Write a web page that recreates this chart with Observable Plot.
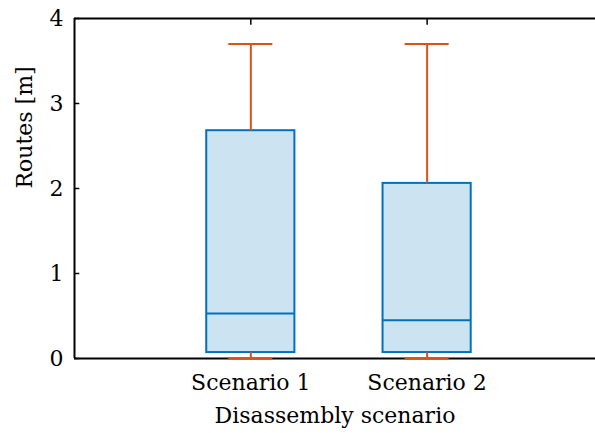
<!DOCTYPE html>
<html>
<head>
<meta charset="utf-8">
<script src="https://cdn.jsdelivr.net/npm/d3@7"></script>
<script src="https://cdn.jsdelivr.net/npm/@observablehq/plot@0.6"></script>
<style>
  html, body { margin: 0; padding: 0; background: #fff; }
  #chart svg, #chart svg text, #chart svg g { font-family: "DejaVu Serif" !important; }
</style>
</head>
<body>
<div id="chart"></div>
<script>
// ---- data ----
const categories = ["Scenario 1", "Scenario 2"];
const lowerWhisker = [0.0, 0.0];
const q1 = [0.07, 0.07];
const median = [0.53, 0.45];
const q3 = [2.68, 2.06];
const upperWhisker = [3.7, 3.7];
const yTicks = [0, 1, 2, 3, 4];
const xLabel = "Disassembly scenario";
const yLabel = "Routes [m]";

// ---- table built from the arrays ----
const rows = categories.map((c, i) => ({
  cat: c, pos: i + 1,
  lo: lowerWhisker[i], q1: q1[i], med: median[i], q3: q3[i], hi: upperWhisker[i]
}));
const positions = rows.map(d => d.pos);

const boxHalf = 0.25, capHalf = 0.125;
const blue = "#0072bd", orange = "#d95319", fillBlue = "#cce3f2";
const fs = 22;

const chart = Plot.plot({
  width: 595,
  height: 433,
  marginLeft: 74,
  marginRight: 0,
  marginTop: 18,
  marginBottom: 75,
  style: { fontFamily: "DejaVu Serif", fontSize: fs + "px", background: "#fff", color: "#000", overflow: "visible" },
  x: {
    type: "linear",
    domain: [0, 2.955],
    ticks: positions,
    tickFormat: p => categories[p - 1],
    tickSize: 0,
    tickPadding: 16,
    label: null
  },
  y: {
    domain: [0, 4],
    ticks: yTicks,
    tickFormat: d3.format("d"),
    tickSize: 0,
    tickPadding: 11,
    label: null
  },
  marks: [
    Plot.rectY(rows, { x1: d => d.pos - boxHalf, x2: d => d.pos + boxHalf, y1: "q1", y2: "q3", fill: fillBlue, stroke: blue, strokeWidth: 2 }),
    Plot.ruleY(rows, { y: "med", x1: d => d.pos - boxHalf, x2: d => d.pos + boxHalf, stroke: blue, strokeWidth: 2 }),
    Plot.ruleY([0, 4], { stroke: "#000", strokeWidth: 2 }),
    Plot.ruleX([0], { y1: 0, y2: 4, stroke: "#000", strokeWidth: 2 }),
    Plot.ruleY(yTicks, { x1: 0, x2: 0.03, stroke: "#000", strokeWidth: 1.5 }),
    Plot.ruleX(positions, { y1: 4, y2: 3.92, stroke: "#000", strokeWidth: 1.5 }),
    Plot.ruleX(rows, { x: "pos", y1: "q3", y2: "hi", stroke: orange, strokeWidth: 2 }),
    Plot.ruleX(rows, { x: "pos", y1: "lo", y2: "q1", stroke: orange, strokeWidth: 2 }),
    Plot.ruleY(rows, { y: "hi", x1: d => d.pos - capHalf, x2: d => d.pos + capHalf, stroke: orange, strokeWidth: 2 }),
    Plot.ruleY(rows, { y: "lo", x1: d => d.pos - capHalf, x2: d => d.pos + capHalf, stroke: orange, strokeWidth: 2 }),
    Plot.text([xLabel], { frameAnchor: "bottom", lineAnchor: "bottom", dy: 64, fontSize: fs, fill: "#000" }),
    Plot.text([yLabel], { frameAnchor: "left", rotate: -90, dx: -50, lineAnchor: "middle", fontSize: fs, fill: "#000" })
  ]
});
document.getElementById("chart").appendChild(chart);
</script>
</body>
</html>
